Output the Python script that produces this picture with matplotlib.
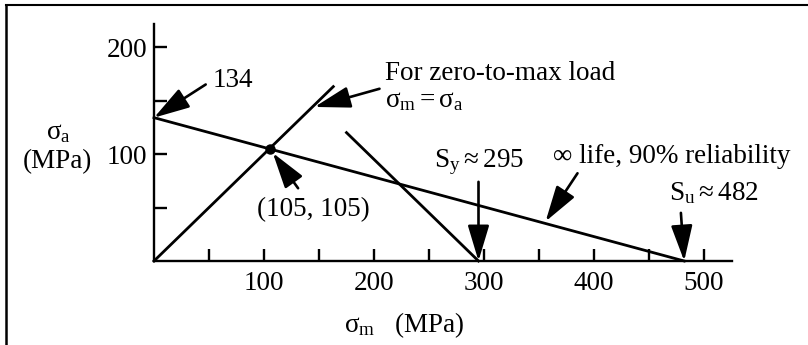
import numpy as np
import matplotlib
matplotlib.use('Agg')
import matplotlib.pyplot as plt
from matplotlib.lines import Line2D

plt.rcParams['font.family'] = ['Liberation Serif', 'DejaVu Serif']
plt.rcParams['mathtext.fontset'] = 'custom'
plt.rcParams['mathtext.rm'] = 'Liberation Serif'
plt.rcParams['mathtext.it'] = 'Liberation Serif'

# data (MPa)
goodman_x = [0, 482]
goodman_y = [134, 0]
yield_x = [175, 295]
yield_y = [120, 0]
load_x = [0, 163]
load_y = [0, 163]
point = (105, 105)

x_major = [100, 200, 300, 400, 500]
x_minor = [50, 150, 250, 350, 450]
y_major = [100, 200]
y_minor = [50, 150]

fs = 19.5
fig = plt.figure(figsize=(8.08, 3.45), dpi=100)
ax = fig.add_axes([154 / 808, 84 / 345, 577.5 / 808, 237.5 / 345])
ax.set_xlim(0, 525)
ax.set_ylim(0, 222)
ax.patch.set_alpha(0)
for s in ['top', 'right']:
    ax.spines[s].set_visible(False)
for s in ['left', 'bottom']:
    ax.spines[s].set_linewidth(1.7)

ax.set_xticks(x_major)
ax.set_xticks(x_minor, minor=True)
ax.set_yticks(y_major)
ax.set_yticks(y_minor, minor=True)
ax.tick_params(which='both', direction='in', length=9, width=1.7, labelsize=fs)
ax.tick_params(axis='x', pad=7)
ax.tick_params(axis='y', pad=5)

lw = 2.0
ax.plot(goodman_x, goodman_y, color='black', lw=lw, clip_on=False)
ax.plot(yield_x, yield_y, color='black', lw=lw, clip_on=False)
ax.plot(load_x, load_y, color='black', lw=lw, clip_on=False)
ax.plot(*point, 'o', color='black', ms=6.5, clip_on=False)

arrow = dict(arrowstyle='-|>,head_length=1.0,head_width=0.3', color='black',
             lw=1.9, mutation_scale=22, shrinkA=0, shrinkB=0)

# 134 intercept
ax.text(53, 169, '134', fontsize=fs, ha='left', va='center')
ax.annotate('', xy=(0, 134), xytext=(47, 165), arrowprops=arrow)

# load line
ax.text(210, 175, 'For zero-to-max load', fontsize=fs, ha='left', va='center')
ax.text(210, 150, r'$\sigma_\mathrm{m} = \sigma_\mathrm{a}$', fontsize=fs, ha='left', va='center')
ax.annotate('', xy=(146, 144), xytext=(205, 161), arrowprops=arrow)

# intersection point
ax.text(145, 48, '(105, 105)', fontsize=fs, ha='center', va='center')
ax.annotate('', xy=(108, 101), xytext=(131, 68), arrowprops=arrow)

# yield
ax.text(255, 92, r'$\mathrm{S_y \approx 295}$', fontsize=fs, ha='left', va='center')
ax.annotate('', xy=(295, 0), xytext=(295, 74), arrowprops=arrow)

# goodman line label
ax.text(363, 98, '\u221e life, 90% reliability', fontsize=fs, ha='left', va='center')
ax.annotate('', xy=(356, 37), xytext=(385, 82), arrowprops=arrow)

# ultimate
ax.text(468, 63, r'$\mathrm{S_u \approx 482}$', fontsize=fs, ha='left', va='center')
ax.annotate('', xy=(482, 0), xytext=(479, 45), arrowprops=arrow)

fig.text(404 / 808, 1 - 325 / 345, r'$\sigma_\mathrm{m}$   (MPa)', fontsize=fs, ha='center', va='center')
fig.text(58 / 808, 1 - 133 / 345, r'$\sigma_\mathrm{a}$', fontsize=fs, ha='center', va='center')
fig.text(57 / 808, 1 - 162 / 345, '(MPa)', fontsize=fs, ha='center', va='center')

# partial frame (top and left only)
fig.add_artist(Line2D([5.5 / 808, 1], [1 - 5 / 345, 1 - 5 / 345], color='black', lw=1.5))
fig.add_artist(Line2D([6 / 808, 6 / 808], [0, 1 - 5 / 345], color='black', lw=1.8))

fig.savefig('out.png', dpi=100)
